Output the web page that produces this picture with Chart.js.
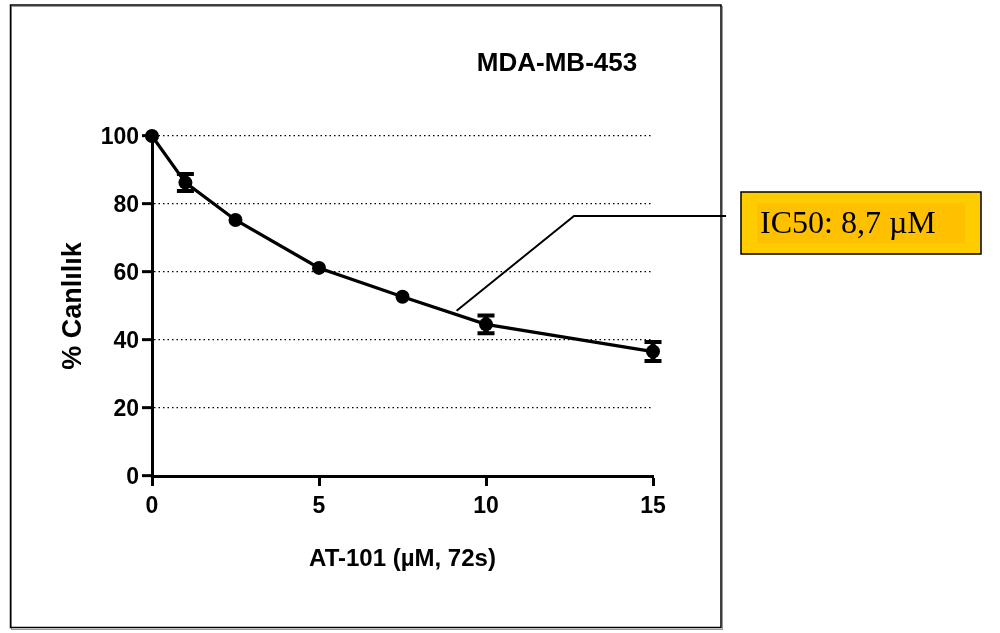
<!DOCTYPE html>
<html>
<head>
<meta charset="utf-8">
<script src="https://cdn.jsdelivr.net/npm/chart.js@4.4.1/dist/chart.umd.min.js"></script>
<style>
  html, body { margin: 0; padding: 0; background: #fff; }
  canvas { display: block; }
</style>
</head>
<body>
<canvas id="doseChart" width="1000" height="633"></canvas>
<script>
// AT-101 dose response, MDA-MB-453, 72h
const doses = [0, 1, 2.5, 5, 7.5, 10, 15];
const viability = [100, 86.3, 75.3, 61.2, 52.7, 44.6, 36.6];
const sem = [0, 2.5, 0, 0, 0, 2.6, 2.8];

const xTickValues = [0, 5, 10, 15];
const yTickValues = [0, 20, 40, 60, 80, 100];

const plotTitle = 'MDA-MB-453';
const xTitle = 'AT-101 (µM, 72s)';
const yTitle = '% Canlılık';
const ic50Label = 'IC50: 8,7 µM';
// where the callout line touches the curve (data units)
const ic50Pointer = { x: 9.12, y: 48.6 };

const sansBold = (size) => ({ family: "'Liberation Sans', Arial, sans-serif", size: size, weight: 'bold' });

// error bars drawn with the chart's own scales
const errorBars = {
    id: 'errorBars',
    afterDatasetsDraw(chart) {
        const ctx = chart.ctx;
        const xs = chart.scales.x;
        const ys = chart.scales.y;
        ctx.save();
        ctx.strokeStyle = '#000';
        doses.forEach((d, i) => {
            if (!sem[i]) return;
            const px = xs.getPixelForValue(d);
            const top = ys.getPixelForValue(viability[i] + sem[i]);
            const bot = ys.getPixelForValue(viability[i] - sem[i]);
            ctx.lineWidth = 5;
            ctx.beginPath();
            ctx.moveTo(px, top);
            ctx.lineTo(px, bot);
            ctx.stroke();
            ctx.lineWidth = 4;
            ctx.beginPath();
            ctx.moveTo(px - 8.5, top);
            ctx.lineTo(px + 8.5, top);
            ctx.moveTo(px - 8.5, bot);
            ctx.lineTo(px + 8.5, bot);
            ctx.stroke();
        });
        ctx.restore();
    }
};

// frame, panel title and the IC50 callout
const annotations = {
    id: 'annotations',
    afterDraw(chart) {
        const ctx = chart.ctx;
        ctx.save();

        // outer frame
        ctx.strokeStyle = '#999';
        ctx.lineWidth = 1;
        ctx.strokeRect(11.5, 6.5, 711, 623);
        ctx.strokeStyle = '#000';
        ctx.lineWidth = 1.5;
        ctx.strokeRect(10.5, 5, 710.5, 622.5);

        // panel title
        ctx.fillStyle = '#000';
        ctx.font = "bold 26px 'Liberation Sans', Arial, sans-serif";
        ctx.textAlign = 'center';
        ctx.textBaseline = 'alphabetic';
        ctx.fillText(plotTitle, 557, 71);

        // callout line
        const px = chart.scales.x.getPixelForValue(ic50Pointer.x);
        const py = chart.scales.y.getPixelForValue(ic50Pointer.y);
        ctx.strokeStyle = '#000';
        ctx.lineWidth = 2;
        ctx.beginPath();
        ctx.moveTo(px, py);
        ctx.lineTo(574, 216);
        ctx.lineTo(726, 216);
        ctx.stroke();

        // IC50 box
        ctx.fillStyle = '#FFCC00';
        ctx.fillRect(741, 192, 240, 62);
        ctx.strokeStyle = '#000';
        ctx.lineWidth = 1.5;
        ctx.strokeRect(741, 192, 240, 62);
        ctx.fillStyle = '#FFC000';
        ctx.fillRect(757, 203, 208, 40);

        ctx.fillStyle = '#000';
        ctx.font = "32px 'Liberation Serif', 'Times New Roman', serif";
        ctx.textAlign = 'left';
        ctx.fillText(ic50Label, 760, 233);

        ctx.restore();
    }
};

const ctx = document.getElementById('doseChart').getContext('2d');
new Chart(ctx, {
    type: 'line',
    data: {
        datasets: [{
            label: plotTitle,
            data: doses.map((d, i) => ({ x: d, y: viability[i] })),
            borderColor: '#000',
            backgroundColor: '#000',
            borderWidth: 3.2,
            tension: 0,
            pointRadius: 7,
            pointBackgroundColor: '#000',
            pointBorderWidth: 0,
            clip: false
        }]
    },
    options: {
        responsive: false,
        animation: false,
        layout: {
            padding: { top: 136, right: 347, bottom: 0, left: 0 }
        },
        plugins: {
            legend: { display: false },
            tooltip: { enabled: false }
        },
        scales: {
            x: {
                type: 'linear',
                min: 0,
                max: 15,
                afterBuildTicks: (axis) => { axis.ticks = xTickValues.map(v => ({ value: v })); },
                afterFit: (axis) => { axis.height = 157; },
                ticks: {
                    color: '#000',
                    font: sansBold(23),
                    padding: 7
                },
                grid: {
                    drawOnChartArea: false,
                    tickLength: 10,
                    tickColor: '#000',
                    tickWidth: 3
                },
                border: { color: '#000', width: 3 },
                title: {
                    display: true,
                    text: xTitle,
                    color: '#000',
                    font: sansBold(24),
                    padding: { top: 0, bottom: 59 }
                }
            },
            y: {
                min: 0,
                max: 100,
                afterBuildTicks: (axis) => { axis.ticks = yTickValues.map(v => ({ value: v })); },
                afterFit: (axis) => { axis.width = 152; },
                ticks: {
                    color: '#000',
                    font: sansBold(23),
                    padding: 3,
                    labelOffset: 2
                },
                grid: {
                    color: '#000',
                    lineWidth: 1.3,
                    tickLength: 10,
                    tickColor: '#000',
                    tickWidth: 3,
                    tickBorderDash: []
                },
                border: { color: '#000', width: 3, dash: [1.5, 3] },
                title: {
                    display: true,
                    text: yTitle,
                    color: '#000',
                    font: sansBold(27),
                    padding: { top: 57, bottom: 0 }
                }
            }
        }
    },
    plugins: [errorBars, annotations]
});
</script>
</body>
</html>
